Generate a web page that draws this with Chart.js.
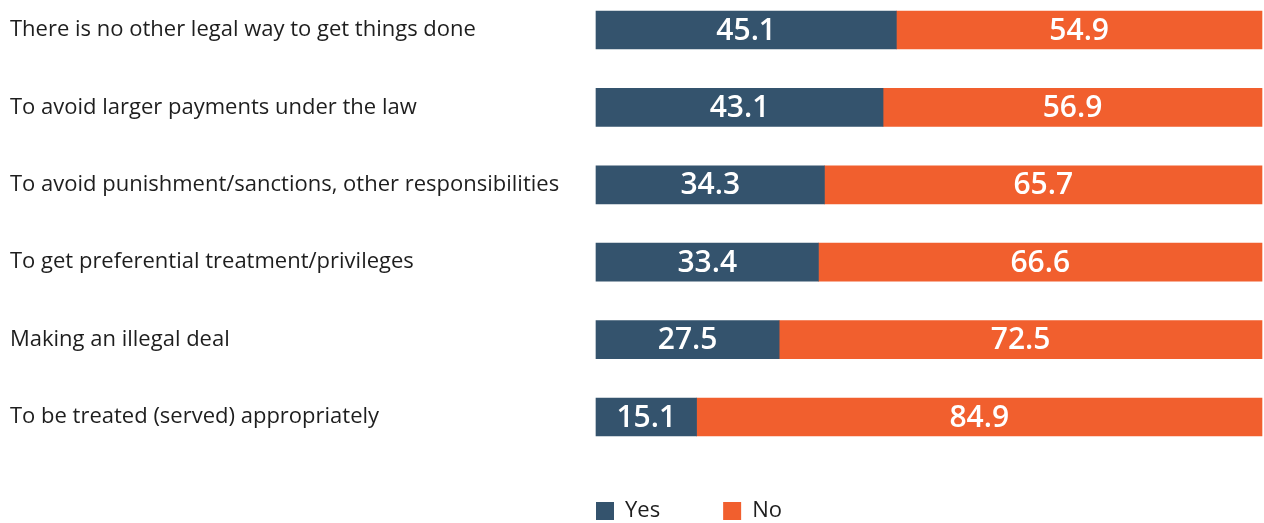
<!DOCTYPE html>
<html>
<head>
<meta charset="utf-8">
<script src="https://cdn.jsdelivr.net/npm/chart.js@4/dist/chart.umd.min.js"></script>
<style>
  html, body { margin: 0; padding: 0; background: #fff; }
  #wrap { width: 1264px; height: 523px; }
</style>
</head>
<body>
<div id="wrap"><canvas id="grafica"></canvas></div>
<script>
// razones (categorias) y porcentajes de cada serie
const razones = [
  "There is no other legal way to get things done",
  "To avoid larger payments under the law",
  "To avoid punishment/sanctions, other responsibilities",
  "To get preferential treatment/privileges",
  "Making an illegal deal",
  "To be treated (served) appropriately"
];
const valoresSi = [45.1, 43.1, 34.3, 33.4, 27.5, 15.1];
const valoresNo = [54.9, 56.9, 65.7, 66.6, 72.5, 84.9];

const fuente = "'Open Sans', 'Noto Sans', sans-serif";

//plugin que escribe el valor en el centro de cada barra
const etiquetasValor = {
  id: 'etiquetasValor',
  afterDatasetsDraw(chart) {
    const ctx = chart.ctx;
    ctx.save();
    ctx.fillStyle = '#ffffff';
    ctx.font = '600 30px ' + fuente;
    ctx.textAlign = 'center';
    ctx.textBaseline = 'middle';
    chart.data.datasets.forEach((ds, i) => {
      chart.getDatasetMeta(i).data.forEach((bar, j) => {
        const {x, y, base} = bar.getProps(['x', 'y', 'base'], true);
        ctx.fillText(ds.data[j].toFixed(1), (x + base) / 2, y + 1);
      });
    });
    ctx.restore();
  }
};

//mueve la leyenda debajo de las barras
const posLeyenda = {
  id: 'posLeyenda',
  afterLayout(chart) {
    const l = chart.legend;
    const h = l.height;
    l.left = 533;
    l.top = 437;
    l.bottom = l.top + h;
  }
};

new Chart(document.querySelector('#grafica'), {
  type: 'bar',
  data: {
    labels: razones,
    datasets: [
      { label: 'Yes', data: valoresSi, backgroundColor: '#34536d', barThickness: 38, clip: false },
      { label: 'No', data: valoresNo, backgroundColor: '#f15f2e', barThickness: 38, clip: false }
    ]
  },
  options: {
    indexAxis: 'y',
    responsive: true,
    maintainAspectRatio: false,
    animation: false,
    layout: { padding: { left: 10, right: 2, top: 30, bottom: 11 } },
    scales: {
      x: { stacked: true, min: 0, max: 100, display: false },
      y: {
        stacked: true,
        offset: false,
        grid: { display: false },
        border: { display: false },
        ticks: {
          crossAlign: 'far',
          color: '#1e1e1e',
          font: { family: fuente, size: 22 }
        },
        afterFit(scale) { scale.width = 586; }
      }
    },
    plugins: {
      tooltip: { enabled: false },
      legend: {
        position: 'bottom',
        align: 'start',
        labels: {
          boxWidth: 18,
          boxHeight: 18,
          padding: 63,
          color: '#1e1e1e',
          font: { family: fuente, size: 22 }
        }
      }
    }
  },
  plugins: [etiquetasValor, posLeyenda]
});
</script>
</body>
</html>
